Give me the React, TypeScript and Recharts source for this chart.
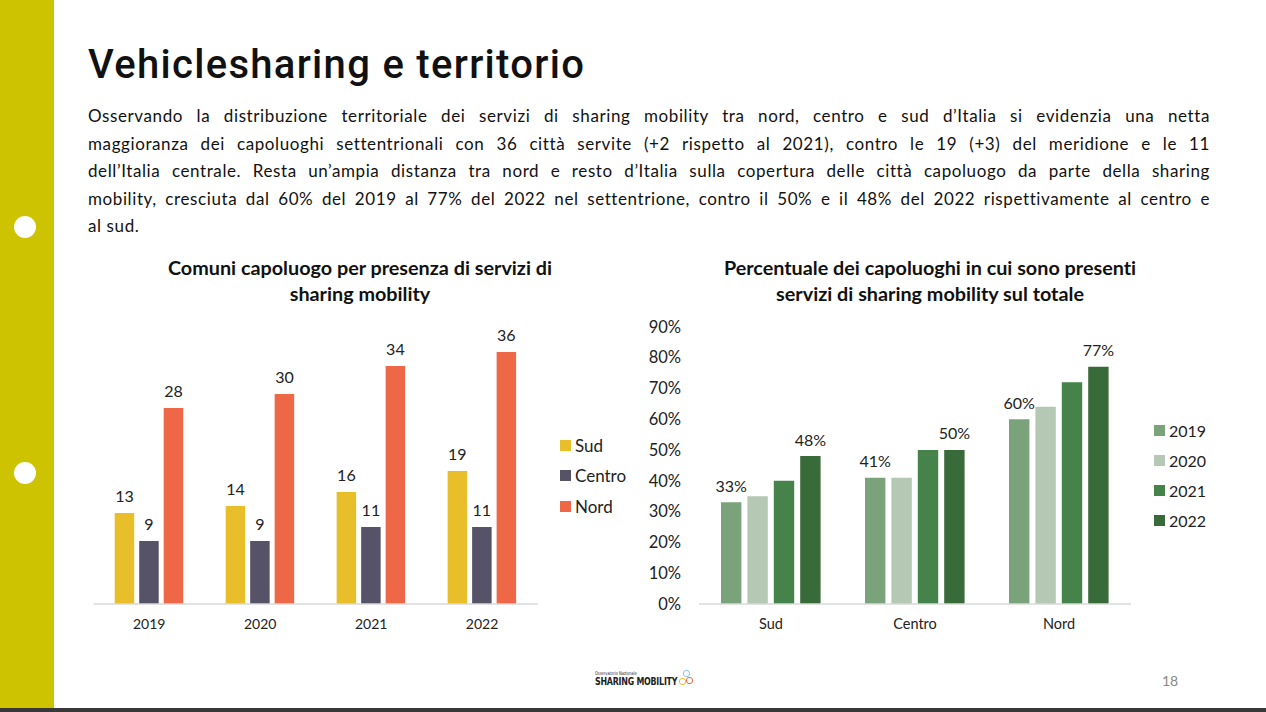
import React from 'react';
import { BarChart, Bar, XAxis, YAxis, LabelList } from 'recharts';

const anni = ['2019', '2020', '2021', '2022'];
const comuniSud = [13, 14, 16, 19];
const comuniCentro = [9, 9, 11, 11];
const comuniNord = [28, 30, 34, 36];

const aree = ['Sud', 'Centro', 'Nord'];
const perc2019 = [33, 41, 60];
const perc2020 = [35, 41, 64];
const perc2021 = [40, 50, 72];
const perc2022 = [48, 50, 77];
const percTicks = [0, 10, 20, 30, 40, 50, 60, 70, 80, 90];

const comuniData = anni.map((anno, i) => ({
  anno,
  Sud: comuniSud[i],
  Centro: comuniCentro[i],
  Nord: comuniNord[i],
}));

const percData = aree.map((area, i) => ({
  area,
  y2019: perc2019[i],
  y2020: perc2020[i],
  y2021: perc2021[i],
  y2022: perc2022[i],
}));

const FONT = 'Lato, "Open Sans", sans-serif';

const leftSeries = [
  { key: 'Sud', color: '#E8BF2A' },
  { key: 'Centro', color: '#565267' },
  { key: 'Nord', color: '#EE6747' },
];

const rightSeries = [
  { key: 'y2019', name: '2019', color: '#7BA37B', label: true },
  { key: 'y2020', name: '2020', color: '#B4C8B4', label: false },
  { key: 'y2021', name: '2021', color: '#46834A', label: false },
  { key: 'y2022', name: '2022', color: '#386B39', label: true },
];

// righe del testo come nella slide
const paragraphLines = [
  'Osservando la distribuzione territoriale dei servizi di sharing mobility tra nord, centro e sud d\u2019Italia si evidenzia una netta',
  'maggioranza dei capoluoghi settentrionali con 36 citt\u00e0 servite (+2 rispetto al 2021), contro le 19 (+3) del meridione e le 11',
  'dell\u2019Italia centrale. Resta un\u2019ampia distanza tra nord e resto d\u2019Italia sulla copertura delle citt\u00e0 capoluogo da parte della sharing',
  'mobility, cresciuta dal 60% del 2019 al 77% del 2022 nel settentrione, contro il 50% e il 48% del 2022 rispettivamente al centro e',
  'al sud.',
];

const LegendBox: React.FC<{ items: { name: string; color: string }[]; left: number; top: number; step: number; fontSize: number }> = ({ items, left, top, step, fontSize }) => (
  <div style={{ position: 'absolute', left, top, fontFamily: FONT, fontSize, color: '#222' }}>
    {items.map((it, i) => (
      <div key={it.name} style={{ position: 'absolute', top: i * step, left: 0, display: 'flex', alignItems: 'center', whiteSpace: 'nowrap', height: 20 }}>
        <span style={{ width: 11, height: 11, background: it.color, display: 'inline-block', marginRight: 4 }} />
        <span>{it.name}</span>
      </div>
    ))}
  </div>
);

export default function App() {
  return (
    <div style={{ position: 'absolute', left: 0, top: 0, width: 1266, height: 712, background: '#fff', overflow: 'hidden', fontFamily: FONT, fontVariantLigatures: 'none' }}>
      {/* barra laterale */}
      <div style={{ position: 'absolute', left: 0, top: 0, width: 54, height: 708, background: '#CEC300' }} />
      <div style={{ position: 'absolute', left: 14, top: 216, width: 22, height: 22, borderRadius: 11, background: '#fff' }} />
      <div style={{ position: 'absolute', left: 14, top: 462, width: 22, height: 22, borderRadius: 11, background: '#fff' }} />
      <div style={{ position: 'absolute', left: 0, top: 708, width: 1266, height: 4, background: '#383838' }} />

      <div style={{ position: 'absolute', left: 88, top: 41, fontFamily: 'Roboto, sans-serif', fontWeight: 500, fontSize: 40, lineHeight: 'normal', letterSpacing: 1.3, color: '#111', whiteSpace: 'nowrap' }}>
        Vehiclesharing e territorio
      </div>

      <div style={{ position: 'absolute', left: 88, top: 102, width: 1122, fontSize: 17, letterSpacing: 0.6, lineHeight: '27.5px', color: '#111' }}>
        {paragraphLines.map((line, i) => (
          <div
            key={i}
            style={{
              textAlign: 'justify',
              textAlignLast: i < paragraphLines.length - 1 ? 'justify' : 'left',
              whiteSpace: 'nowrap',
            }}
          >
            {i < paragraphLines.length - 1 ? <span style={{ display: 'block', whiteSpace: 'normal' }}>{line}</span> : line}
          </div>
        ))}
      </div>

      {/* grafico sinistro */}
      <div style={{ position: 'absolute', left: 100, top: 254, width: 520, textAlign: 'center', fontWeight: 700, fontSize: 19.8, lineHeight: '26px', color: '#111' }}>
        Comuni capoluogo per presenza di servizi di
        <br />
        sharing mobility
      </div>
      <div style={{ position: 'absolute', left: 60, top: 300 }}>
        <BarChart width={540} height={345} data={comuniData} margin={{ top: 24, right: 62.4, bottom: 11, left: 33.7 }} barGap={5} barSize={19.5}>
          <XAxis dataKey="anno" tickSize={0} tickMargin={15} height={30} stroke="#D9D9D9" strokeWidth={1.5} tick={{ fill: '#222', fontSize: 14, fontFamily: FONT }} />
          <YAxis hide domain={[0, 40]} />
          {leftSeries.map((s) => (
            <Bar key={s.key} dataKey={s.key} fill={s.color} isAnimationActive={false}>
              <LabelList dataKey={s.key} position="top" offset={11} fill="#222" fontSize={16} fontFamily={FONT} />
            </Bar>
          ))}
        </BarChart>
      </div>
      <LegendBox items={leftSeries.map((s) => ({ name: s.key, color: s.color }))} left={560} top={435} step={30.5} fontSize={17} />

      {/* grafico destro */}
      <div style={{ position: 'absolute', left: 670, top: 254, width: 520, textAlign: 'center', fontWeight: 700, fontSize: 19.8, lineHeight: '26px', color: '#111' }}>
        Percentuale dei capoluoghi in cui sono presenti
        <br />
        servizi di sharing mobility sul totale
      </div>
      <div style={{ position: 'absolute', left: 620, top: 300 }}>
        <BarChart width={620} height={345} data={percData} margin={{ top: 26.7, right: 109, bottom: 11, left: 0 }} barGap={6} barSize={20.4}>
          <XAxis dataKey="area" tickSize={0} tickMargin={15} height={30} stroke="#D9D9D9" strokeWidth={1.5} tick={{ fill: '#222', fontSize: 14.5, fontFamily: FONT }} />
          <YAxis domain={[0, 90]} ticks={percTicks} interval={0} width={79} axisLine={false} tickSize={0} tickMargin={18} tickFormatter={(v: number) => `${v}%`} tick={{ fill: '#222', fontSize: 16.5, fontFamily: FONT }} />
          {rightSeries.map((s) => (
            <Bar key={s.key} dataKey={s.key} name={s.name} fill={s.color} isAnimationActive={false}>
              {s.label && (
                <LabelList dataKey={s.key} position="top" offset={10.5} fill="#222" fontSize={16} fontFamily={FONT} formatter={(v: number) => `${v}%`} />
              )}
            </Bar>
          ))}
        </BarChart>
      </div>
      <LegendBox items={rightSeries.map((s) => ({ name: s.name, color: s.color }))} left={1154} top={420} step={30.3} fontSize={16} />

      {/* footer */}
      <div style={{ position: 'absolute', left: 595, top: 670, fontFamily: '"Liberation Sans Narrow", "DejaVu Sans Condensed", sans-serif', color: '#222', transform: 'scaleX(0.8)', transformOrigin: 'left' }}>
        <div style={{ fontSize: 5, lineHeight: '6px' }}>Osservatorio Nazionale</div>
        <div style={{ fontSize: 11, lineHeight: '12px', fontWeight: 700, letterSpacing: -0.3 }}>SHARING MOBILITY</div>
      </div>
      <div style={{ position: 'absolute', left: 683, top: 670, width: 5, height: 5, borderRadius: 3, border: '1px solid #8BC5E0' }} />
      <div style={{ position: 'absolute', left: 679, top: 678, width: 5, height: 5, borderRadius: 3, border: '1px solid #E8C02A' }} />
      <div style={{ position: 'absolute', left: 686, top: 677, width: 5, height: 5, borderRadius: 3, border: '1px solid #EE6747' }} />
      <div style={{ position: 'absolute', left: 1162, top: 672, fontSize: 14, color: '#888' }}>18</div>
    </div>
  );
}
